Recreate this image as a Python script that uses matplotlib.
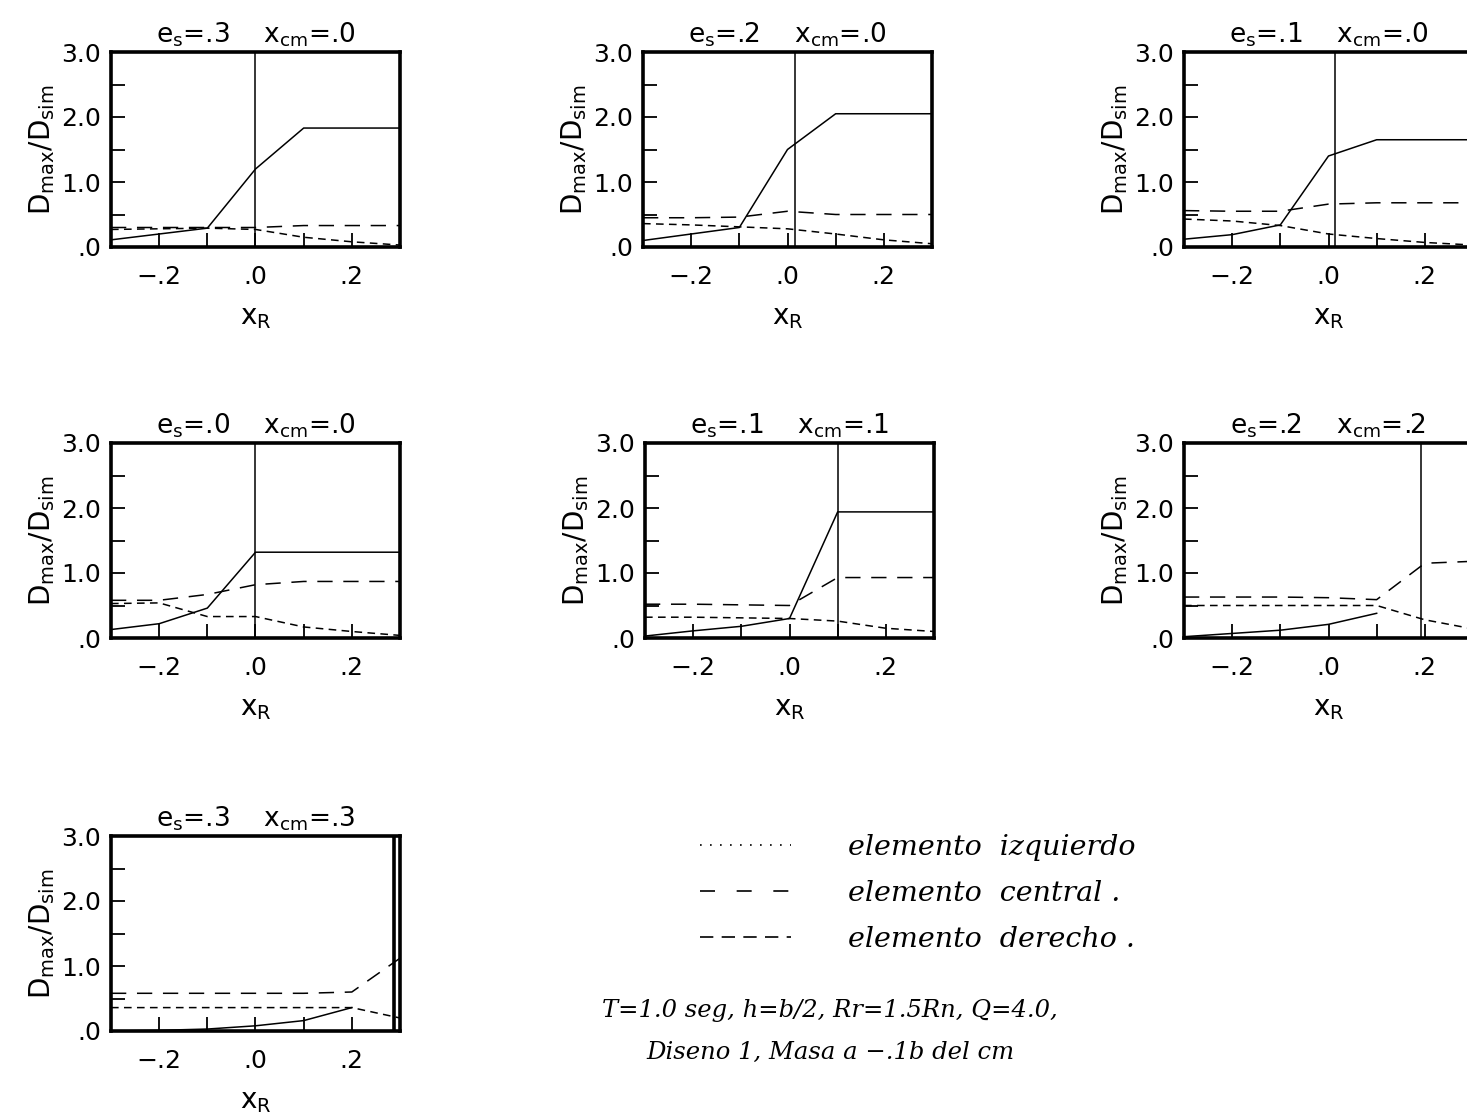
import numpy as np
import matplotlib.pyplot as plt
from matplotlib.lines import Line2D

plt.rcParams['font.family'] = 'DejaVu Sans'
plt.rcParams['mathtext.default'] = 'regular'

# posiciones x_R de los casos analizados
x_r = [-0.3, -0.2, -0.1, 0.0, 0.1, 0.2, 0.3]

# titulos de cada panel
e_s = ['.3', '.2', '.1', '.0', '.1', '.2', '.3']
x_cm = ['.0', '.0', '.0', '.0', '.1', '.2', '.3']
# posicion de la linea vertical del centro de masa
x_cm_linea = [0.0, 0.015, 0.013, 0.0, 0.1, 0.192, 0.288]

# D_max/D_sim por elemento (izquierdo = linea continua)
izquierdo = [
    [0.11, 0.20, 0.29, 1.20, 1.83, 1.83, 1.83],
    [0.10, 0.20, 0.30, 1.50, 2.05, 2.05, 2.05],
    [0.12, 0.19, 0.34, 1.40, 1.65, 1.65, 1.65],
    [0.13, 0.22, 0.46, 1.32, 1.32, 1.32, 1.32],
    [0.03, 0.11, 0.18, 0.30, 1.94, 1.94, 1.94],
    [0.02, 0.07, 0.12, 0.21, 0.38, np.nan, np.nan],
    [0.00, 0.01, 0.03, 0.08, 0.16, 0.36, np.nan],
]
central = [
    [0.30, 0.30, 0.30, 0.30, 0.33, 0.33, 0.33],
    [0.45, 0.45, 0.46, 0.55, 0.50, 0.50, 0.50],
    [0.56, 0.55, 0.55, 0.66, 0.68, 0.68, 0.68],
    [0.58, 0.58, 0.67, 0.82, 0.87, 0.87, 0.87],
    [0.52, 0.52, 0.51, 0.50, 0.93, 0.93, 0.93],
    [0.63, 0.63, 0.63, 0.62, 0.59, 1.15, 1.18],
    [0.58, 0.58, 0.58, 0.58, 0.58, 0.60, 1.12],
]
derecho = [
    [0.27, 0.28, 0.29, 0.27, 0.15, 0.08, 0.03],
    [0.36, 0.34, 0.31, 0.28, 0.20, 0.11, 0.05],
    [0.43, 0.40, 0.33, 0.20, 0.13, 0.07, 0.03],
    [0.53, 0.54, 0.33, 0.33, 0.17, 0.10, 0.04],
    [0.32, 0.32, 0.31, 0.30, 0.26, 0.15, 0.10],
    [0.50, 0.50, 0.50, 0.50, 0.50, 0.28, 0.14],
    [0.36, 0.36, 0.36, 0.36, 0.36, 0.36, 0.20],
]

W, H = 1467, 1120
fig = plt.figure(figsize=(W / 100, H / 100), dpi=100)

# esquina superior izquierda de cada panel en pixeles
esquinas = [(111, 52), (643, 52), (1184, 52),
            (111, 443), (645, 443), (1184, 443),
            (111, 836)]
ancho, alto = 289, 195

for i, (px, py) in enumerate(esquinas):
    ax = fig.add_axes([px / W, 1 - (py + alto) / H, ancho / W, alto / H])
    ax.plot(x_r, izquierdo[i], color='k', lw=1.1)
    ax.plot(x_r, central[i], color='k', lw=1.1, dashes=(10, 7))
    ax.plot(x_r, derecho[i], color='k', lw=1.1, dashes=(5, 3.5))
    ax.axvline(x_cm_linea[i], color='k', lw=1.1 if i < 6 else 2.6)

    ax.set_xlim(-0.3, 0.3)
    ax.set_ylim(0, 3)
    ax.set_xticks([-0.2, -0.1, 0.0, 0.1, 0.2])
    ax.set_xticklabels(['\u2212.2', '', '.0', '', '.2'])
    ax.set_yticks([0, 0.5, 1, 1.5, 2, 2.5, 3])
    ax.set_yticklabels(['.0', '', '1.0', '', '2.0', '', '3.0'])
    ax.tick_params(direction='in', length=10, width=1.3, labelsize=18)
    ax.tick_params(axis='x', pad=13)
    ax.tick_params(axis='y', pad=7)
    for s in ax.spines.values():
        s.set_linewidth(2.6)

    ax.set_title(f'$e_s$=' + e_s[i] + '    ' + f'$x_{{cm}}$=' + x_cm[i],
                 fontsize=19, pad=7)
    ax.set_ylabel('$D_{max}/D_{sim}$', fontsize=20, labelpad=3)
    ax.set_xlabel('$x_R$', fontsize=20, labelpad=10)

# leyenda
manejadores = [
    Line2D([], [], color='k', lw=1.2, linestyle=(0, (1, 5))),
    Line2D([], [], color='k', lw=1.2, dashes=(9, 13)),
    Line2D([], [], color='k', lw=1.2, dashes=(8, 5)),
]
etiquetas = ['elemento  izquierdo', 'elemento  central .', 'elemento  derecho .']
fuente_ley = dict(family='DejaVu Serif', style='italic', size=20.5)
fig.legend(manejadores, etiquetas, loc='upper left',
           bbox_to_anchor=(700 / W, 1 - 834 / H), frameon=False,
           prop=fuente_ley, handlelength=3.2, handletextpad=2.0,
           labelspacing=0.66, borderpad=0, borderaxespad=0)

fuente = dict(family='DejaVu Serif', style='italic', size=17.5)
fig.text(830 / W, 1 - 1010 / H, 'T=1.0 seg, h=b/2, Rr=1.5Rn, Q=4.0,',
         ha='center', va='center', **fuente)
fig.text(830 / W, 1 - 1052 / H, 'Diseno 1, Masa a \u2212.1b del cm',
         ha='center', va='center', **fuente)

fig.savefig('out.png', dpi=100)
